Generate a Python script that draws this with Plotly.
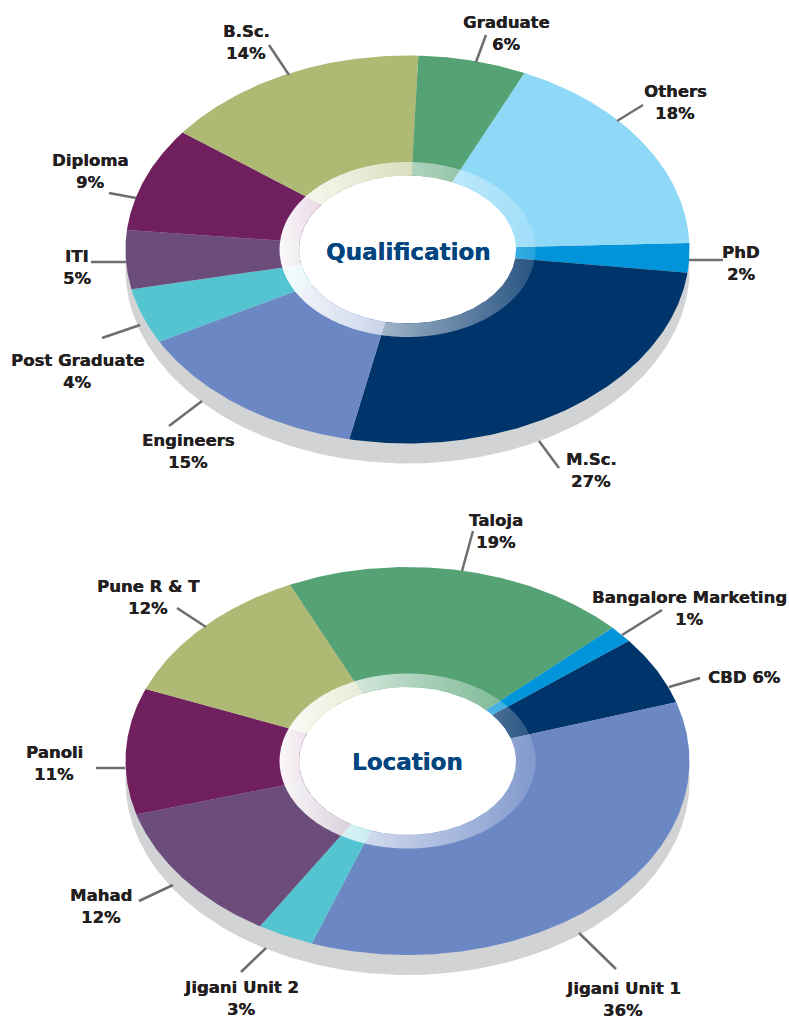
import numpy as np
import plotly.graph_objects as go

# ---- data ----
qual_names = ["PhD", "M.Sc.", "Engineers", "Post Graduate", "ITI", "Diploma", "B.Sc.", "Graduate", "Others"]
qual_labels = [2, 27, 15, 4, 5, 9, 14, 6, 18]
qual_shares = [2.44, 26.4, 13.8, 4.6, 4.9, 8.7, 15.3, 6.2, 17.66]

loc_names = ["CBD", "Jigani Unit 1", "Jigani Unit 2", "Mahad", "Panoli", "Pune R & T", "Taloja", "Bangalore Marketing"]
loc_labels = [6, 36, 3, 12, 11, 12, 19, 1]
loc_shares = [5.75, 35.4, 3.25, 11.8, 10.5, 12.1, 19.8, 1.4]

# ---- styles ----
C = dict(phd="#0095DA", navy="#00356B", blue="#6C88C4", teal="#54C5D0", plum="#6C4C7A",
         purple="#71205F", olive="#AEB973", green="#55A274", sky="#8ED8F8")
qual_colors = [C["phd"], C["navy"], C["blue"], C["teal"], C["plum"], C["purple"], C["olive"], C["green"], C["sky"]]
loc_colors = [C["navy"], C["blue"], C["teal"], C["plum"], C["purple"], C["olive"], C["green"], C["phd"]]
FONT = "DejaVu Sans"
FONT_SIZE = 16.5
TITLE_SIZE = 23
LINE_GAP = 22
TXT = "#231F20"
TITLE = "#00457F"
LINE = "#6D6E71"
SHADOW = "#D1D3D4"

CX, RX, RY = 407.5, 282.0, 194.0
RING_RX, RING_RY, HOLE_RX, HOLE_RY = 128.0, 87.5, 108.5, 74.0
SHADOW_DY = 20

qual_pos = [(741, 263), (591, 470), (188, 451), (77, 371), (77, 267), (90, 171), (246, 42), (506, 33), (675, 102)]
loc_pos = [(744, 677), (623, 999), (241, 998), (101, 906), (54, 763), (148, 597), (496, 531), (689, 608)]
qual_leaders = [((723, 260), (689, 260)), ((559, 468), (539, 441)), ((169, 426), (202, 401)),
                ((102, 338), (140, 325)), ((91, 262), (127, 262)), ((109, 193), (136, 198)),
                ((269, 45), (289, 75)), ((486, 35), (476, 62)), ((643, 105), (617, 121))]
loc_leaders = [((700, 678), (669, 687)), ((616, 969), (579, 933)), ((241, 972), (266, 948)),
               ((139, 901), (173, 885)), ((96, 768), (125, 768)), ((177, 608), (206, 627)),
               ((473, 531), (462, 571)), ((662, 610), (622, 635))]

ALPHA_X = [279, 300, 360, 420, 480, 535]
ALPHA_A = [0.97, 0.90, 0.72, 0.50, 0.33, 0.15]

fig = go.Figure()


def ell(cx, cy, rx, ry, t):
    return cx + rx * np.cos(t), cy + ry * np.sin(t)


def add_poly(x, y, color):
    fig.add_trace(go.Scatter(x=list(x), y=list(y), mode="lines", fill="toself", fillcolor=color,
                             line=dict(width=0), hoverinfo="skip", showlegend=False))


def half(xv, rx, ry):
    return ry * np.sqrt(np.clip(1 - ((xv - CX) / rx) ** 2, 0, None))


def donut(cy, names, labels, shares, colors, start_deg, title, title_y, pos, leaders):
    t = np.linspace(0, 2 * np.pi, 721)
    x, y = ell(CX, cy + SHADOW_DY, RX, RY, t)
    add_poly(x, y, SHADOW)

    total = sum(shares)
    a = start_deg
    for share, col in zip(shares, colors):
        b = a + 360 * share / total
        n = max(int(abs(b - a) * 2), 2)
        tt = np.radians(np.linspace(a, b, n))
        x, y = ell(CX, cy, RX, RY, tt)
        add_poly(np.r_[CX, x, CX], np.r_[cy, y, cy], col)
        a = b

    # translucent ring with a left-to-right white fade, in pixel-aligned columns
    for x0 in range(279, 536, 2):
        xs = np.linspace(x0, x0 + 2, 9)
        alpha = float(np.interp(x0 + 1, ALPHA_X, ALPHA_A))
        o = half(xs, RING_RX, RING_RY)
        i = half(xs, HOLE_RX, HOLE_RY)
        if i.max() == 0:
            px = np.r_[xs, xs[::-1]]
            py = np.r_[cy - o, (cy + o)[::-1]]
            add_poly(px, py, f"rgba(255,255,255,{alpha:.3f})")
        else:
            px = list(xs) + list(xs[::-1]) + [None] + list(xs) + list(xs[::-1])
            py = list(cy - o) + list((cy - i)[::-1]) + [None] + list(cy + i) + list((cy + o)[::-1])
            add_poly(px, py, f"rgba(255,255,255,{alpha:.3f})")

    x, y = ell(CX, cy, HOLE_RX, HOLE_RY, t)
    add_poly(x, y, "#FFFFFF")

    lx, ly = [], []
    for (p, q) in leaders:
        lx += [p[0], q[0], None]
        ly += [p[1], q[1], None]
    fig.add_trace(go.Scatter(x=lx, y=ly, mode="lines", line=dict(color=LINE, width=2.5),
                             hoverinfo="skip", showlegend=False))

    def label(px, py, text, size=FONT_SIZE, color=TXT):
        fig.add_annotation(x=px, y=py, text=text, showarrow=False, xanchor="center", yanchor="middle",
                           font=dict(family=FONT, size=size, color=color, weight=700,
                                     shadow=f"0.35px 0 0 {color}"))

    for name, lab, (px, py) in zip(names, labels, pos):
        if name == "CBD":
            label(px, py, f"{name} {lab}%")
        else:
            label(px, py - LINE_GAP / 2, name)
            label(px, py + LINE_GAP / 2, f"{lab}%")
    label(CX, title_y, title, TITLE_SIZE, TITLE)


donut(249.5, qual_names, qual_labels, qual_shares, qual_colors, -1.9, "Qualification", 252, qual_pos, qual_leaders)
donut(761.0, loc_names, loc_labels, loc_shares, loc_colors, -38.3, "Location", 762, loc_pos, loc_leaders)

fig.update_layout(width=789, height=1019, margin=dict(l=0, r=0, t=0, b=0),
                  paper_bgcolor="white", plot_bgcolor="white", showlegend=False,
                  xaxis=dict(range=[0, 789], visible=False, fixedrange=True),
                  yaxis=dict(range=[1019, 0], visible=False, fixedrange=True))
fig.write_html("out.html", config=dict(displayModeBar=False),
               post_script="document.body.style.margin='0';document.documentElement.style.overflow='hidden';")
